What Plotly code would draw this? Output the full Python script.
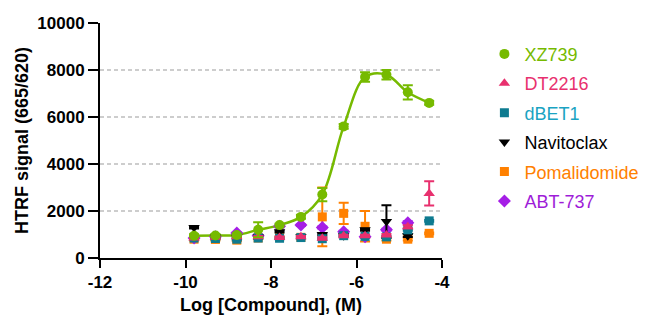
import plotly.graph_objects as go

# ---- data ----
log_conc = [-9.8, -9.3, -8.8, -8.3, -7.8, -7.3, -6.8, -6.3, -5.8, -5.3, -4.8, -4.3]

xz739 = [950, 960, 980, 1200, 1400, 1750, 2700, 5600, 7700, 7800, 7050, 6600]
xz739_err = [60, 60, 60, 320, 60, 80, 280, 100, 200, 200, 300, 80]

dt2216 = [850, 880, 900, 900, 870, 900, 840, 950, 950, 980, 1330, 2750]
dt2216_err = [40, 40, 40, 40, 40, 40, 40, 40, 40, 40, 60, 520]

dbet1 = [850, 830, 800, 850, 840, 870, 820, 950, 920, 900, 1200, 1580]
dbet1_err = [40, 40, 40, 40, 40, 40, 40, 40, 40, 40, 40, 40]

navitoclax = [1300, 900, 880, 900, 1120, 900, 1000, 950, 1200, 1550, 950, None]
navitoclax_err = [40, 40, 40, 40, 40, 40, 40, 40, 40, 700, 60, 0]

pomalidomide = [800, 790, 760, 850, 880, 880, 1750, 1900, 1350, 800, 800, 1050]
pomalidomide_err = [40, 40, 40, 40, 40, 40, 1250, 450, 650, 60, 60, 40]

abt737 = [850, 900, 1060, 950, 1350, 1400, 1300, 1120, 900, 1200, 1500, None]
abt737_err = [40, 40, 40, 40, 40, 40, 40, 40, 40, 40, 60, 0]

x_ticks = [-12, -10, -8, -6, -4]
y_ticks = [0, 2000, 4000, 6000, 8000, 10000]
grid_vals = [2000, 4000, 6000, 8000]

# ---- styles ----
series = [
    # name, y, err, marker color, text color, symbol, size, rank
    ("Pomalidomide", pomalidomide, pomalidomide_err, "#FF8000", "#FF8000", "square", 9, 5),
    ("ABT-737", abt737, abt737_err, "#A51EE6", "#9E1CD8", "diamond", 10, 6),
    ("Navitoclax", navitoclax, navitoclax_err, "#000000", "#000000", "triangle-down", 10, 4),
    ("dBET1", dbet1, dbet1_err, "#0E7B90", "#1AA3C2", "square", 9, 3),
    ("DT2216", dt2216, dt2216_err, "#E8306E", "#E8306E", "triangle-up", 10, 2),
    ("XZ739", xz739, xz739_err, "#76BA00", "#76BA00", "circle", 10, 1),
]

fig = go.Figure()

# fitted curve for XZ739
fig.add_trace(go.Scatter(
    x=log_conc, y=xz739, mode="lines", line=dict(color="#76BA00", width=2.5, shape="spline", smoothing=1.0),
    showlegend=False, hoverinfo="skip"))

for name, y, err, col, tcol, sym, size, rank in series:
    fig.add_trace(go.Scatter(
        x=log_conc, y=y, mode="markers",
        name=f'<span style="color:{tcol}">{name}</span>',
        legendrank=rank, legendgroup=name,
        marker=dict(color=col, symbol=sym, size=size, line=dict(width=0)),
        error_y=dict(type="data", array=err, color=col, thickness=2, width=5, visible=True),
    ))

shapes = [dict(type="line", xref="paper", x0=0, x1=1, yref="y", y0=g, y1=g,
               line=dict(color="#BDBDBD", width=1.5, dash="4px,3px"), layer="below")
          for g in grid_vals]

font_family = "Arial, 'Liberation Sans', sans-serif"

# page body adds an 8px margin, so the figure is 644x312 drawn at (8, 8)
fig.update_layout(
    width=644, height=312,
    margin=dict(l=92, r=210, t=15, b=62, autoexpand=False),
    paper_bgcolor="white", plot_bgcolor="white",
    font=dict(family=font_family, color="black"),
    shapes=shapes,
    showlegend=True,
    legend=dict(x=1.124, xanchor="left", y=0.946, yanchor="top",
                font=dict(size=18, family=font_family),
                tracegroupgap=3, itemsizing="trace", bgcolor="rgba(0,0,0,0)"),
    xaxis=dict(range=[-12, -4], tickvals=x_ticks, ticktext=[str(v) for v in x_ticks],
               showline=True, linewidth=2, linecolor="black", ticks="outside",
               ticklen=8, tickwidth=2, tickcolor="black", showgrid=False, zeroline=False,
               automargin=False,
               tickfont=dict(size=17, family=font_family, weight="bold"),
               title=dict(text="<b>Log [Compound], (M)</b>", font=dict(size=18), standoff=7)),
    yaxis=dict(range=[0, 10000], tickvals=y_ticks, ticktext=[str(v) for v in y_ticks],
               showline=True, linewidth=2, linecolor="black", ticks="outside",
               ticklen=10, tickwidth=2, tickcolor="black", showgrid=False, zeroline=False,
               automargin=False,
               tickfont=dict(size=17, family=font_family, weight="bold"),
               title=dict(text="<b>HTRF signal (665/620)</b>", font=dict(size=18), standoff=4)),
)

fig.write_html("out.html")
